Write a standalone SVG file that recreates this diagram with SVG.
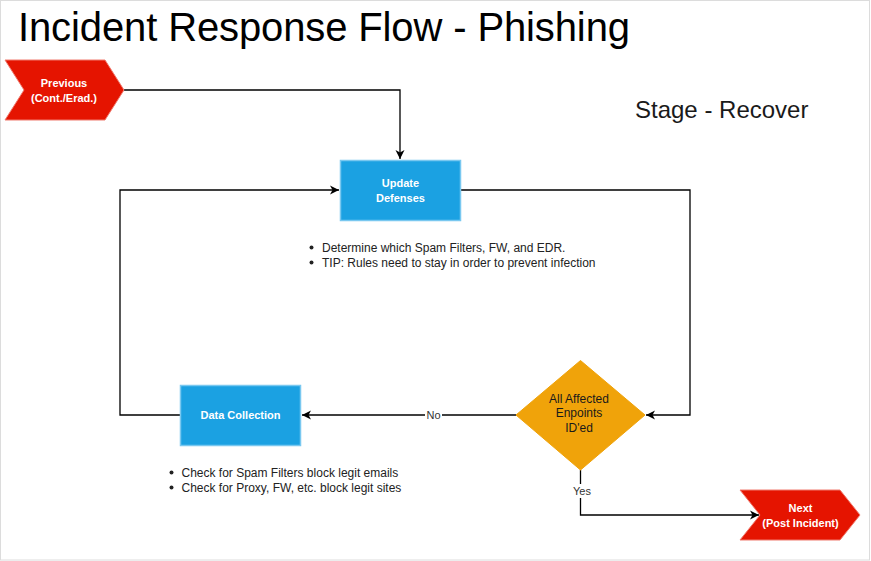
<svg xmlns="http://www.w3.org/2000/svg" width="871" height="561" viewBox="0 0 871 561">
  <defs>
    <style>
      .t { font-family: "Liberation Sans", Arial, sans-serif; }
      .title { font-size: 40px; fill: #000; }
      .stage { font-size: 24px; fill: #1a1a1a; }
      .node-w { font-size: 11px; font-weight: bold; fill: #fff; text-anchor: middle; }
      .node-b { font-size: 12px; fill: #1a1a1a; text-anchor: middle; }
      .bul { font-size: 12px; fill: #222; }
      .lbl { font-size: 11px; fill: #333; text-anchor: middle; }
      .blue { fill: #1BA1E2; stroke: #79C8F0; stroke-width: 1.5; }
      .red { fill: #E51400; stroke: #F07A6E; stroke-width: 1; }
      .edge { fill: none; stroke: #000; stroke-width: 1.3; }
    </style>
    <marker id="arr" markerUnits="userSpaceOnUse" markerWidth="12" markerHeight="12" refX="9" refY="5" orient="auto">
      <path d="M0,0.5 L9,5 L0,9.5 L2.5,5 Z" fill="#000"/>
    </marker>
  </defs>
  <rect x="0.5" y="0.5" width="869" height="559.5" fill="#fff" stroke="#dcdcdc"/>

  <text class="t title" x="18" y="41" textLength="612">Incident Response Flow - Phishing</text>
  <text class="t stage" x="635" y="118">Stage - Recover</text>

  <g id="connectors">
    <polyline class="edge" points="124,90 400,90 400,159" marker-end="url(#arr)"/>
    <polyline class="edge" points="180,415 120,415 120,190 339,190" marker-end="url(#arr)"/>
    <polyline class="edge" points="460,190 690,190 690,415 646,415" marker-end="url(#arr)"/>
    <polyline class="edge" points="516,415 302,415" marker-end="url(#arr)"/>
    <polyline class="edge" points="580.5,470 580.5,515 759,515" marker-end="url(#arr)"/>
    <rect x="425" y="408" width="17" height="14" fill="#fff"/>
    <text class="t lbl" x="433.5" y="419">No</text>
    <rect x="571" y="484" width="22" height="14" fill="#fff"/>
    <text class="t lbl" x="582" y="495">Yes</text>
  </g>

  <g id="previous">
    <polygon class="red" points="5,60 105,60 124,90 105,120 5,120 24,90"/>
    <text class="t node-w" x="64" y="87">Previous</text>
    <text class="t node-w" x="64" y="102">(Cont./Erad.)</text>
  </g>

  <g id="update-defenses">
    <rect class="blue" x="340.5" y="160.5" width="120" height="60"/>
    <text class="t node-w" x="400.5" y="187">Update</text>
    <text class="t node-w" x="400.5" y="202">Defenses</text>
  </g>

  <g id="update-notes">
    <circle cx="311.5" cy="247.5" r="2" fill="#222"/>
    <text class="t bul" x="322" y="251.5">Determine which Spam Filters, FW, and EDR.</text>
    <circle cx="311.5" cy="262.5" r="2" fill="#222"/>
    <text class="t bul" x="322" y="266.5">TIP: Rules need to stay in order to prevent infection</text>
  </g>

  <g id="data-collection">
    <rect class="blue" x="180.5" y="385.5" width="120" height="60"/>
    <text class="t node-w" x="240.5" y="419">Data Collection</text>
  </g>

  <g id="data-notes">
    <circle cx="171.5" cy="472.5" r="2" fill="#222"/>
    <text class="t bul" x="181.5" y="476.5">Check for Spam Filters block legit emails</text>
    <circle cx="171.5" cy="487.5" r="2" fill="#222"/>
    <text class="t bul" x="181.5" y="491.5">Check for Proxy, FW, etc. block legit sites</text>
  </g>

  <g id="decision">
    <polygon points="516,415 580.5,360.5 645,415 580.5,470" fill="#F0A30A" stroke="#F0A30A"/>
    <text class="t node-b" x="579" y="402.5">All Affected</text>
    <text class="t node-b" x="579" y="417">Enpoints</text>
    <text class="t node-b" x="579" y="431.5">ID'ed</text>
  </g>

  <g id="next">
    <polygon class="red" points="740,490 840,490 860,515 840,540 740,540 760,515"/>
    <text class="t node-w" x="800.5" y="512">Next</text>
    <text class="t node-w" x="800.5" y="527">(Post Incident)</text>
  </g>
</svg>
